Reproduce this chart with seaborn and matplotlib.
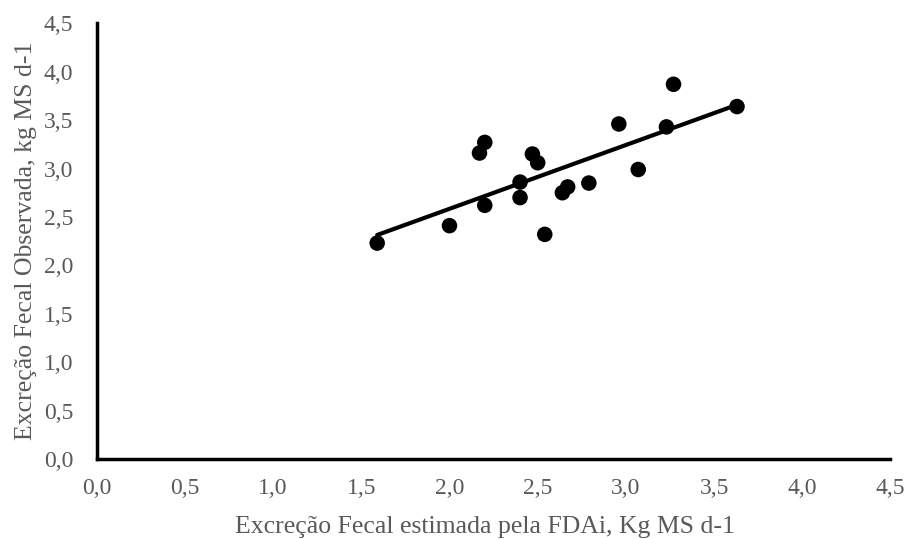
import numpy as np
import pandas as pd
import matplotlib
matplotlib.use('Agg')
import matplotlib.pyplot as plt
import seaborn as sns

# Excreção fecal estimada (FDAi) vs observada, kg MS d-1
estimada = [1.59, 2.00, 2.17, 2.20, 2.20, 2.40, 2.40, 2.47, 2.50, 2.54,
            2.64, 2.67, 2.79, 2.96, 3.07, 3.23, 3.27, 3.63]
observada = [2.23, 2.41, 3.16, 3.27, 2.62, 2.70, 2.86, 3.15, 3.06, 2.32,
             2.75, 2.81, 2.85, 3.46, 2.99, 3.43, 3.87, 3.64]

ticks = [0.0, 0.5, 1.0, 1.5, 2.0, 2.5, 3.0, 3.5, 4.0, 4.5]
tick_labels = ['0,0', '0,5', '1,0', '1,5', '2,0', '2,5', '3,0', '3,5', '4,0', '4,5']

df = pd.DataFrame({'estimada': estimada, 'observada': observada})

sns.set_style('white')
plt.rcParams['font.family'] = ['Liberation Serif', 'DejaVu Serif']

fig = plt.figure(figsize=(9.09, 5.39), dpi=100)
ax = fig.add_axes([0.1064, 0.1484, 0.8732, 0.8084])

sns.regplot(data=df, x='estimada', y='observada', ax=ax, ci=None,
            color='black',
            scatter_kws={'s': 125, 'alpha': 1, 'edgecolor': 'none', 'zorder': 3},
            line_kws={'linewidth': 3, 'zorder': 2})

ax.set_xlim(0, 4.5)
ax.set_ylim(0, 4.5)
ax.set_xticks(ticks)
ax.set_xticklabels(tick_labels)
ax.set_yticks(ticks)
ax.set_yticklabels(tick_labels)

grey = '#595959'
ax.tick_params(axis='both', direction='out', length=5, width=2, color='black',
               labelsize=17, labelcolor=grey)
ax.tick_params(axis='x', pad=8.5)
ax.tick_params(axis='y', pad=12)
ax.set_xlabel('Excreção Fecal estimada pela FDAi, Kg MS d-1', fontsize=18.5, color=grey)
ax.set_ylabel('Excreção Fecal Observada, kg MS d-1', fontsize=18.5, color=grey)
ax.xaxis.set_label_coords(0.489, -0.131)
ax.yaxis.set_label_coords(-0.075, 0.5)

for side in ['top', 'right']:
    ax.spines[side].set_visible(False)
for side in ['left', 'bottom']:
    ax.spines[side].set_color('black')
    ax.spines[side].set_linewidth(2.5)

fig.savefig('out.png', dpi=100)
